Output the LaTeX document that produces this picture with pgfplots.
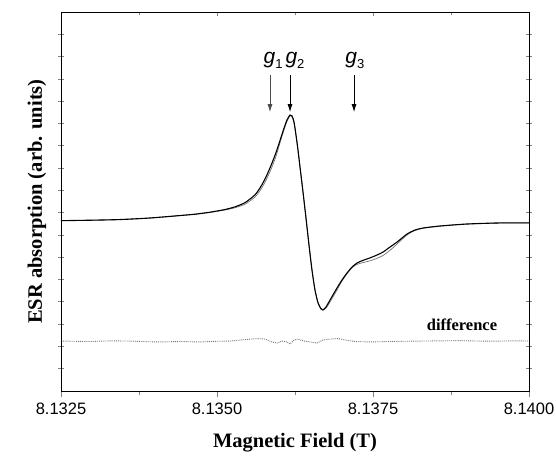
\documentclass[border=0pt]{standalone}
\usepackage{pgfplots}
\pgfplotsset{compat=1.18}
\usetikzlibrary{arrows.meta}
\usepackage{fontspec}
\setmainfont{Liberation Serif}
\newfontfamily\arial{Liberation Sans}
\begin{document}
\begin{tikzpicture}
\begin{axis}[
  scale only axis,
  width=468pt, height=379pt,
  xmin=8.1325, xmax=8.1400,
  ymin=0, ymax=17,
  axis line style={line width=0.9pt},
  xtick={8.1325,8.1350,8.1375,8.1400},
  xticklabels={8.1325,8.1350,8.1375,8.1400},
  minor xtick={8.13375,8.13625,8.13875},
  xtick pos=bottom,
  xtick align=outside,
  x tick style={line width=0.8pt},
  major x tick style={line width=0.9pt},
  ytick={1,...,16},
  yticklabels={},
  ytick pos=both,
  ytick align=center,
  y tick style={line width=0.7pt},
  major tick length=6pt,
  minor tick length=3.5pt,
  tick label style={font=\arial\fontsize{16.5}{16.5}\selectfont},
  x tick label style={yshift=-2pt},
  xlabel={\bfseries\fontsize{20.5}{24}\selectfont Magnetic Field (T)},
  xlabel style={at={(axis description cs:0.5,-0.137)}, anchor=center},
  ylabel={\bfseries\fontsize{20.5}{24}\selectfont ESR absorption (arb. units)},
  ylabel style={at={(axis description cs:-0.0513,0.5)}, anchor=center},
  clip=false,
]
% fit (gray, thin)
\addplot[color=black!55, line width=0.7pt, smooth, tension=0.4] coordinates {
(8.132500,7.64) (8.132965,7.66) (8.133446,7.69) (8.133926,7.76) (8.134407,7.87)
(8.134647,7.93) (8.134888,8.01) (8.135128,8.12) (8.135288,8.22) (8.135449,8.38)
(8.135609,8.70) (8.135705,9.05) (8.135785,9.45) (8.135865,9.94) (8.135946,10.53)
(8.136010,11.14) (8.136074,11.72) (8.136122,12.10) (8.136170,12.34) (8.136202,12.30)
(8.136234,12.03) (8.136266,11.46) (8.136298,10.80) (8.136330,10.05) (8.136378,8.93)
(8.136426,7.76) (8.136474,6.55) (8.136522,5.43) (8.136570,4.55) (8.136619,3.97)
(8.136667,3.70) (8.136699,3.66) (8.136747,3.72) (8.136811,3.99) (8.136923,4.53)
(8.137003,4.93) (8.137083,5.26) (8.137163,5.52) (8.137244,5.68) (8.137340,5.76)
(8.137452,5.84) (8.137564,5.95) (8.137660,6.08) (8.137773,6.31) (8.137885,6.59)
(8.138045,7.00) (8.138173,7.20) (8.138301,7.30) (8.138574,7.40) (8.139007,7.49)
(8.139535,7.53) (8.140000,7.54)
};
% experimental (black)
\addplot[color=black, line width=1.1pt, smooth, tension=0.4] coordinates {
(8.132500,7.64) (8.132965,7.66) (8.133446,7.69) (8.133926,7.76) (8.134407,7.87)
(8.134647,7.93) (8.134888,8.02) (8.135128,8.14) (8.135288,8.26) (8.135449,8.45)
(8.135609,8.80) (8.135705,9.18) (8.135785,9.60) (8.135865,10.11) (8.135946,10.70)
(8.136010,11.24) (8.136074,11.79) (8.136122,12.16) (8.136170,12.38) (8.136202,12.34)
(8.136234,12.07) (8.136266,11.48) (8.136298,10.81) (8.136330,10.05) (8.136378,8.93)
(8.136426,7.76) (8.136474,6.55) (8.136522,5.43) (8.136570,4.53) (8.136619,3.95)
(8.136667,3.68) (8.136699,3.63) (8.136747,3.77) (8.136811,4.08) (8.136923,4.62)
(8.137003,4.98) (8.137083,5.29) (8.137163,5.56) (8.137244,5.74) (8.137340,5.86)
(8.137452,5.97) (8.137564,6.10) (8.137660,6.23) (8.137773,6.46) (8.137885,6.68)
(8.138045,7.04) (8.138173,7.22) (8.138301,7.31) (8.138574,7.40) (8.139007,7.49)
(8.139535,7.54) (8.140000,7.54)
};
% difference (dotted gray)
\addplot[color=black!55, line width=0.9pt, densely dotted] coordinates {
(8.132500,2.24) (8.132965,2.22) (8.133300,2.25) (8.133606,2.24) (8.133900,2.21)
(8.134087,2.20) (8.134400,2.22) (8.134728,2.20) (8.135000,2.23) (8.135208,2.24)
(8.135529,2.33) (8.135657,2.35) (8.135769,2.33) (8.135881,2.20) (8.135962,2.15)
(8.136042,2.24) (8.136106,2.22) (8.136170,2.11) (8.136234,2.29) (8.136298,2.33)
(8.136394,2.24) (8.136490,2.20) (8.136603,2.15) (8.136699,2.29) (8.136811,2.33)
(8.136939,2.35) (8.137051,2.29) (8.137212,2.22) (8.137452,2.20) (8.137773,2.22)
(8.138000,2.23) (8.138253,2.24) (8.138600,2.25) (8.138894,2.26) (8.139200,2.24)
(8.139535,2.24) (8.139800,2.25) (8.140000,2.24)
};
% annotations
\node[font=\bfseries\fontsize{16.5}{18}\selectfont] at (axis cs:8.138926,2.97) {difference};
\node[anchor=base, font=\arial\fontsize{21}{21}\selectfont, inner sep=0pt] at (axis cs:8.135898,14.71) {\itshape g\upshape\raisebox{-0.45ex}{\fontsize{13}{13}\selectfont 1}};
\node[anchor=base, font=\arial\fontsize{21}{21}\selectfont, inner sep=0pt] at (axis cs:8.136250,14.71) {\itshape g\upshape\raisebox{-0.45ex}{\fontsize{13}{13}\selectfont 2}};
\node[anchor=base, font=\arial\fontsize{21}{21}\selectfont, inner sep=0pt] at (axis cs:8.137210,14.71) {\itshape g\upshape\raisebox{-0.45ex}{\fontsize{13}{13}\selectfont 3}};
\draw[-{Latex[length=8pt,width=5pt]}, line width=0.8pt, black!70] (axis cs:8.135849,14.17) -- (axis cs:8.135849,12.51);
\draw[-{Latex[length=8pt,width=5pt]}, line width=0.8pt] (axis cs:8.136170,14.17) -- (axis cs:8.136170,12.51);
\draw[-{Latex[length=8pt,width=5pt]}, line width=0.8pt] (axis cs:8.137196,14.17) -- (axis cs:8.137196,12.51);
\end{axis}
% top ticks (inside)
\begin{axis}[
  scale only axis,
  width=468pt, height=379pt,
  xmin=8.1325, xmax=8.1400,
  ymin=0, ymax=17,
  axis line style={line width=0.9pt},
  xtick={8.1325,8.1350,8.1375,8.1400},
  minor xtick={8.13375,8.13625,8.13875},
  xticklabels={},
  xtick pos=top,
  xtick align=inside,
  major tick length=4pt,
  minor tick length=3pt,
  ytick=\empty,
]
\end{axis}
\pgfresetboundingbox
\path (-61pt,-64pt) rectangle (495pt,391pt);
\end{tikzpicture}
\end{document}
